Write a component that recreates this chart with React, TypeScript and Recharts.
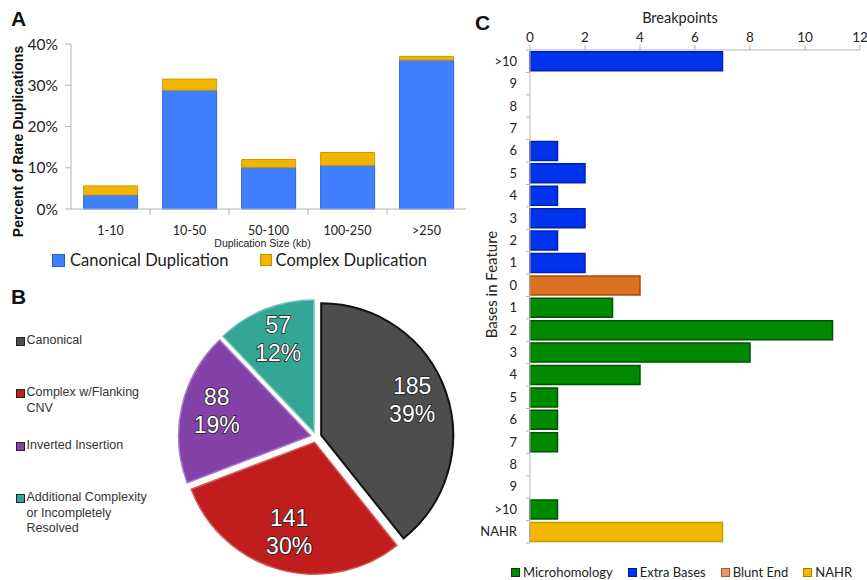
import { Bar, BarChart, Label, Legend, Pie, PieChart, Sector, XAxis, YAxis } from 'recharts'

/* Panel A: share of rare duplications by size bin (%) */
const SIZE_BINS = ['1-10', '10-50', '50-100', '100-250', '>250']
const CANONICAL_PCT = [3.4, 28.8, 10.1, 10.6, 36.1]
const COMPLEX_PCT = [2.2, 2.7, 1.9, 3.1, 0.9]
const PCT_TICKS = [0, 10, 20, 30, 40]

/* Panel B: breakpoint classes */
const CLASS_NAMES = [
  'Canonical',
  'Complex w/Flanking CNV',
  'Inverted Insertion',
  'Additional Complexity or Incompletely Resolved',
]
const CLASS_COUNTS = [185, 141, 88, 57]
const CLASS_FILLS = ['#4d4d4d', '#c01d1f', '#8442a8', '#35a595']
const CLASS_STROKES = ['#111111', '#d65a5a', '#a679c4', '#6cc4b8']

/* Panel C: bases in junction feature */
const FEATURE_LABELS = ['>10', '9', '8', '7', '6', '5', '4', '3', '2', '1', '0', '1', '2', '3', '4', '5', '6', '7', '8', '9', '>10', 'NAHR']
const FEATURE_TYPES = [
  'extra', 'extra', 'extra', 'extra', 'extra', 'extra', 'extra', 'extra', 'extra', 'extra',
  'blunt',
  'micro', 'micro', 'micro', 'micro', 'micro', 'micro', 'micro', 'micro', 'micro', 'micro',
  'nahr',
]
const BREAKPOINTS = [7, 0, 0, 0, 1, 2, 1, 2, 1, 2, 4, 3, 11, 8, 4, 1, 1, 1, 0, 0, 1, 7]
const BREAKPOINT_TICKS = [0, 2, 4, 6, 8, 10, 12]

const AXIS_GRAY = '#b4b4b4'
const EXPLODE = 5.5

const sizeRows = SIZE_BINS.map((bin, i) => ({ bin, canonical: CANONICAL_PCT[i], complex: COMPLEX_PCT[i] }))
const pieRows = CLASS_NAMES.map((name, i) => ({ name, value: CLASS_COUNTS[i] }))
const featureRows = FEATURE_LABELS.map((_, i) => ({ id: i, [FEATURE_TYPES[i]]: BREAKPOINTS[i] }))

const SizeTick = (props: any) => {
  const { x, y, payload, index } = props
  const off = payload.offset ?? 0
  return (
    <g>
      {index > 0 && <line x1={x - off} x2={x - off} y1={y} y2={y + 6} stroke={AXIS_GRAY} />}
      <text x={x} y={y + 26} textAnchor="middle" fontSize={12.5} fontFamily="Lato" fill="#222">
        {payload.value}
      </text>
    </g>
  )
}

const FeatureTick = (props: any) => {
  const { x, y, payload, index } = props
  const off = payload.offset ?? 0
  return (
    <g>
      <line x1={x - 4} x2={x} y1={y - off} y2={y - off} stroke={AXIS_GRAY} />
      {index === FEATURE_LABELS.length - 1 && <line x1={x - 4} x2={x} y1={y + off} y2={y + off} stroke={AXIS_GRAY} />}
      <text x={x - 13} y={y + 4.5} textAnchor="end" fontSize={13} fontFamily="Lato" fill="#222">
        {FEATURE_LABELS[payload.value]}
      </text>
    </g>
  )
}

// sectors are drawn here, pushed out along their mid angle
const renderExplodedSlice = (p: any) => {
  const rad = Math.PI / 180
  const ux = Math.cos(-p.midAngle * rad)
  const uy = Math.sin(-p.midAngle * rad)
  const cx = p.cx + EXPLODE * ux
  const cy = p.cy + EXPLODE * uy
  const lr = p.outerRadius * 0.73
  const lx = cx + lr * ux
  const ly = cy + lr * uy
  const txt = { textAnchor: 'middle' as const, fontSize: 23, fontFamily: 'Liberation Sans', fill: '#fff', stroke: '#222', strokeWidth: 1.6, paintOrder: 'stroke' as const }
  return (
    <g>
      <Sector
        cx={cx}
        cy={cy}
        innerRadius={0}
        outerRadius={p.outerRadius}
        startAngle={p.startAngle}
        endAngle={p.endAngle}
        fill={CLASS_FILLS[p.index]}
        stroke={CLASS_STROKES[p.index]}
        strokeWidth={p.index === 0 ? 2 : 1.5}
      />
      <text x={lx} y={ly - 9} {...txt}>{p.value}</text>
      <text x={lx} y={ly + 19} {...txt}>{`${Math.round(p.percent * 100)}%`}</text>
    </g>
  )
}

const letter = (ch: string, left: number, top: number) => (
  <div style={{ position: 'absolute', left, top, fontFamily: 'Liberation Sans', fontWeight: 700, fontSize: 21, lineHeight: '21px', color: '#111' }}>
    {ch}
  </div>
)

const sizeLegend = () => (
  <div style={{ display: 'flex', alignItems: 'center', whiteSpace: 'nowrap', fontFamily: 'Lato', fontSize: 16.5, color: '#222' }}>
    <span style={{ width: 11, height: 11, background: '#4080ff', border: '1px solid #2a55d8', marginRight: 5 }} />
    <span style={{ marginRight: 31 }}>Canonical Duplication</span>
    <span style={{ width: 10, height: 10, background: '#f2b600', border: '1px solid #c29200', marginRight: 4 }} />
    <span>Complex Duplication</span>
  </div>
)

const CLASS_LEGEND_TOPS = [53, 105, 158, 210]
const classLegend = () => (
  <div style={{ position: 'relative', width: 150, height: 240, fontFamily: 'Liberation Sans', fontSize: 12.5, lineHeight: '15.5px', color: '#333' }}>
    {CLASS_NAMES.map((name, i) => (
      <div key={name} style={{ position: 'absolute', left: 0, top: CLASS_LEGEND_TOPS[i], display: 'flex' }}>
        <span style={{ flex: 'none', width: 7, height: 7, marginTop: 3.5, marginRight: 1.5, background: CLASS_FILLS[i], border: '1px solid #222' }} />
        <span style={{ width: 132 }}>{name}</span>
      </div>
    ))}
  </div>
)

const FEATURE_LEGEND = [
  { name: 'Microhomology', fill: '#008a00', border: '#003c00' },
  { name: 'Extra Bases', fill: '#0033ff', border: '#001a90' },
  { name: 'Blunt End', fill: '#e8956a', border: '#a85a30' },
  { name: 'NAHR', fill: '#f2b800', border: '#a67c00' },
]
const featureLegend = () => (
  <div style={{ display: 'flex', alignItems: 'center', whiteSpace: 'nowrap', fontFamily: 'Lato', fontSize: 13, lineHeight: '16px', color: '#222' }}>
    {FEATURE_LEGEND.map((it) => (
      <span key={it.name} style={{ display: 'flex', alignItems: 'center', marginRight: 15 }}>
        <span style={{ width: 7, height: 7, background: it.fill, border: `1px solid ${it.border}`, marginRight: 3 }} />
        {it.name}
      </span>
    ))}
  </div>
)

export default function App() {
  return (
    <div style={{ position: 'absolute', left: 0, top: 0, width: 867, height: 580, background: '#fff', overflow: 'hidden' }}>
      {letter('A', 11, 8)}
      {letter('B', 11, 286)}
      {letter('C', 475, 12)}

      <div style={{ position: 'absolute', left: 0, top: 0 }}>
        <BarChart width={470} height={275} data={sizeRows} margin={{ top: 44, right: 4, bottom: 36, left: 11 }} barCategoryGap="16%">
          <XAxis dataKey="bin" height={30} interval={0} tick={<SizeTick />} tickSize={0} tickMargin={0} tickLine={false} axisLine={{ stroke: AXIS_GRAY }}>
            <Label
              content={({ viewBox }: any) => (
                <text x={viewBox.x + viewBox.width / 2 - 6} y={viewBox.y + 38} textAnchor="middle" fontSize={10.5} fontFamily="Liberation Sans" fill="#222">
                  Duplication Size (kb)
                </text>
              )}
            />
          </XAxis>
          <YAxis
            width={60}
            domain={[0, 40]}
            ticks={PCT_TICKS}
            interval={0}
            tickFormatter={(v) => `${v}%`}
            tick={{ fill: '#222', fontSize: 15.5, fontFamily: 'Lato' }}
            tickSize={6}
            tickMargin={7}
            tickLine={{ stroke: AXIS_GRAY }}
            axisLine={{ stroke: AXIS_GRAY }}
          >
            <Label
              content={({ viewBox }: any) => (
                <text
                  transform={`translate(${viewBox.x + 11.5}, ${viewBox.y + viewBox.height / 2 + 15}) rotate(-90)`}
                  textAnchor="middle"
                  fontSize={14}
                  fontWeight={700}
                  fontFamily="Liberation Sans"
                  fill="#111"
                >
                  Percent of Rare Duplications
                </text>
              )}
            />
          </YAxis>
          <Bar dataKey="canonical" name="Canonical Duplication" stackId="a" fill="#4080ff" stroke="#2f62e6" isAnimationActive={false} />
          <Bar dataKey="complex" name="Complex Duplication" stackId="a" fill="#f2b600" stroke="#d09a00" isAnimationActive={false} />
          <Legend layout="horizontal" verticalAlign="middle" align="center" content={sizeLegend} wrapperStyle={{ left: 52, top: 250, width: 410 }} />
        </BarChart>
      </div>

      <div style={{ position: 'absolute', left: 0, top: 280 }}>
        <PieChart width={470} height={300}>
          <Pie
            data={pieRows}
            dataKey="value"
            nameKey="name"
            cx={311}
            cy={152}
            outerRadius={132}
            startAngle={90}
            endAngle={-270}
            fill="transparent"
            stroke="none"
            label={renderExplodedSlice}
            labelLine={false}
            isAnimationActive={false}
          />
          <Legend layout="horizontal" verticalAlign="middle" align="center" content={classLegend} wrapperStyle={{ left: 16, top: 0, width: 150 }} />
        </PieChart>
      </div>

      <div style={{ position: 'absolute', left: 470, top: 0 }}>
        <BarChart width={397} height={580} data={featureRows} layout="vertical" margin={{ top: 20, right: 7, bottom: 37, left: 20 }} barCategoryGap="8%">
          <XAxis
            type="number"
            orientation="top"
            height={30}
            domain={[0, 12]}
            ticks={BREAKPOINT_TICKS}
            interval={0}
            tick={{ fill: '#222', fontSize: 13.5, fontFamily: 'Lato' }}
            tickSize={5}
            tickMargin={3}
            tickLine={{ stroke: AXIS_GRAY }}
            axisLine={{ stroke: AXIS_GRAY }}
          >
            <Label
              content={({ viewBox }: any) => (
                <text x={viewBox.x + viewBox.width / 2 - 15} y={viewBox.y + 3} textAnchor="middle" fontSize={14.5} fontFamily="Lato" fill="#222">
                  Breakpoints
                </text>
              )}
            />
          </XAxis>
          <YAxis type="category" dataKey="id" width={40} interval={0} tick={<FeatureTick />} tickSize={0} tickMargin={0} tickLine={false} axisLine={{ stroke: AXIS_GRAY }}>
            <Label
              content={({ viewBox }: any) => (
                <text
                  transform={`translate(${viewBox.x + 7}, ${viewBox.y + viewBox.height / 2 - 12}) rotate(-90)`}
                  textAnchor="middle"
                  fontSize={15}
                  fontFamily="Lato"
                  fill="#222"
                >
                  Bases in Feature
                </text>
              )}
            />
          </YAxis>
          <Bar dataKey="micro" name="Microhomology" stackId="c" fill="#008a00" stroke="#005200" strokeWidth={1.5} isAnimationActive={false} />
          <Bar dataKey="extra" name="Extra Bases" stackId="c" fill="#0033ee" stroke="#0020b0" strokeWidth={1.5} isAnimationActive={false} />
          <Bar dataKey="blunt" name="Blunt End" stackId="c" fill="#db7020" stroke="#a84c10" strokeWidth={1.5} isAnimationActive={false} />
          <Bar dataKey="nahr" name="NAHR" stackId="c" fill="#f2b800" stroke="#c99a00" strokeWidth={1.5} isAnimationActive={false} />
          <Legend layout="horizontal" verticalAlign="middle" align="center" content={featureLegend} wrapperStyle={{ left: 41, top: 564, width: 380 }} />
        </BarChart>
      </div>
    </div>
  )
}
